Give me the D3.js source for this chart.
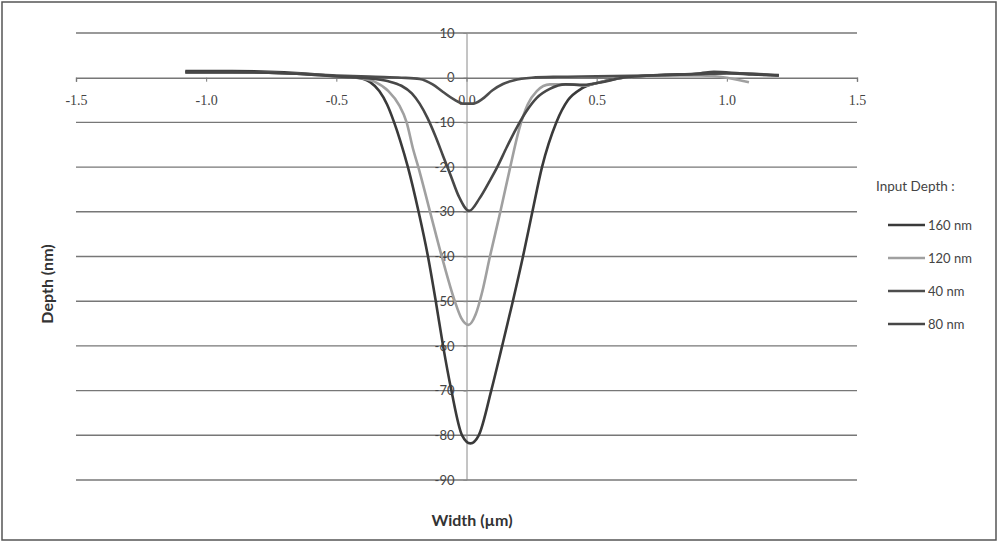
<!DOCTYPE html>
<html>
<head>
<meta charset="utf-8">
<script src="https://cdn.jsdelivr.net/npm/d3@7"></script>
<style>
  html, body { margin: 0; padding: 0; background: #fff; }
  svg { display: block; }
</style>
</head>
<body>
<svg id="chart" width="998" height="543"></svg>
<script>
// Profile data: width (µm) vs. depth (nm) for each input depth
const seriesNames = ["160 nm", "120 nm", "40 nm", "80 nm"];

const width160 = [-1.08,-0.9,-0.7,-0.55,-0.45,-0.42,-0.37,-0.335,-0.305,-0.278,-0.255,-0.225,-0.184,-0.148,-0.118,-0.09,-0.058,-0.017,0.015,0.047,0.095,0.137,0.178,0.217,0.253,0.29,0.345,0.39,0.44,0.5,0.6,0.7,0.85,1.0,1.1,1.2];
const depth160 = [1.5,1.5,1.2,0.6,0.1,0,-1,-3,-6,-10,-14,-20,-30,-40,-50,-60,-70,-80,-81.8,-80,-70,-60,-50,-40,-30,-20,-10,-5,-2.5,-1.2,0,0.5,0.7,1.0,0.7,0.5];

const width120 = [-1.08,-0.9,-0.7,-0.55,-0.45,-0.4,-0.35,-0.3,-0.26,-0.23,-0.205,-0.185,-0.14,-0.095,-0.045,-0.02,0.008,0.035,0.06,0.09,0.13,0.168,0.2,0.235,0.27,0.32,0.4,0.45,0.5,0.6,0.75,0.9,1.0,1.085];
const depth120 = [1.2,1.2,1.0,0.5,0.1,-0.2,-1,-3,-6,-10,-16,-20,-30,-40,-50,-53.8,-55.3,-53,-48,-40,-30,-20,-12,-6,-3,-1.5,-1.5,-1.8,-1.2,0,0.5,0.5,0,-1];

const width40 = [-1.08,-0.9,-0.7,-0.5,-0.35,-0.25,-0.18,-0.13,-0.09,-0.05,-0.01,0.025,0.06,0.1,0.14,0.18,0.25,0.35,0.5,0.7,0.9,1.0,1.2];
const depth40 = [1.2,1.2,1.0,0.5,0.2,0.0,-0.3,-1.5,-3.2,-4.8,-5.8,-5.8,-4.8,-2.8,-1.4,-0.6,0,0.2,0.3,0.5,0.8,1.0,0.6];

const width80 = [-1.08,-0.9,-0.7,-0.55,-0.45,-0.35,-0.3,-0.25,-0.21,-0.18,-0.15,-0.12,-0.09,-0.06,-0.03,0.01,0.05,0.09,0.118,0.155,0.19,0.23,0.27,0.32,0.38,0.45,0.52,0.6,0.75,0.9,0.95,1.05,1.2];
const depth80 = [1.3,1.3,1.0,0.5,0.1,-0.3,-0.8,-1.8,-3.5,-5.8,-9,-13,-17.5,-22,-26.5,-29.8,-27,-23,-20,-15.5,-11.5,-7.5,-4.5,-2.5,-1.5,-1.6,-1,0,0.6,1.0,1.3,1.0,0.5];

const xTicks = [-1.5, -1.0, -0.5, 0.0, 0.5, 1.0, 1.5];
const yTicks = [10, 0, -10, -20, -30, -40, -50, -60, -70, -80, -90];

const series = [
  { name: seriesNames[0], xs: width160, ys: depth160, color: "#3a3a3a" },
  { name: seriesNames[1], xs: width120, ys: depth120, color: "#a0a0a0" },
  { name: seriesNames[2], xs: width40,  ys: depth40,  color: "#4d4d4d" },
  { name: seriesNames[3], xs: width80,  ys: depth80,  color: "#474747" }
];

// Plain hyphen for negative numbers on the tick labels
const locale = d3.formatLocale({ decimal: ".", thousands: ",", grouping: [3], currency: ["", ""], minus: "-" });

const svg = d3.select("#chart");

// Outer chart frame
svg.append("rect")
  .attr("x", 2).attr("y", 2).attr("width", 994).attr("height", 538)
  .attr("fill", "#fff").attr("stroke", "#555").attr("stroke-width", 1.5);

const x = d3.scaleLinear().domain([-1.5, 1.5]).range([76, 857]);
const y = d3.scaleLinear().domain([10, -90]).range([33, 480]);

// Horizontal gridlines
svg.append("g")
  .selectAll("line")
  .data(yTicks.filter(v => v !== 0))
  .join("line")
  .attr("x1", x(-1.5)).attr("x2", x(1.5))
  .attr("y1", d => y(d)).attr("y2", d => y(d))
  .attr("stroke", "#777").attr("stroke-width", 1.4);

// Vertical axis at x = 0
const yAxis = d3.axisLeft(y).tickValues(yTicks).tickSize(3).tickFormat(locale.format("d"));
const yG = svg.append("g").attr("transform", `translate(${x(0)},0)`).call(yAxis);
yG.select(".domain").attr("stroke", "#8a8a8a").attr("stroke-width", 1);
yG.selectAll(".tick line").attr("stroke", "#8a8a8a");
yG.selectAll(".tick text")
  .attr("x", -12)
  .attr("fill", "#444")
  .style("font-family", "Lato, 'Open Sans', sans-serif")
  .style("font-size", "13px");

// Horizontal axis at depth = 0
const xAxis = d3.axisBottom(x).tickValues(xTicks).tickSize(4).tickSizeOuter(4).tickFormat(locale.format(".1f"));
const xG = svg.append("g").attr("transform", `translate(0,${y(0)})`).call(xAxis);
xG.select(".domain").attr("stroke", "#777").attr("stroke-width", 1.4);
xG.selectAll(".tick line").attr("stroke", "#777");
xG.selectAll(".tick text")
  .attr("y", 17)
  .attr("fill", "#444")
  .style("font-family", "'Liberation Serif', 'DejaVu Serif', serif")
  .style("font-size", "14px");

// Profile curves
const line = d3.line()
  .x(d => x(d[0]))
  .y(d => y(d[1]))
  .curve(d3.curveMonotoneX);

svg.append("g")
  .selectAll("path")
  .data(series)
  .join("path")
  .attr("d", s => line(s.xs.map((v, i) => [v, s.ys[i]])))
  .attr("fill", "none")
  .attr("stroke", s => s.color)
  .attr("stroke-width", 2.6)
  .attr("stroke-linejoin", "round");

// Axis titles
svg.append("text")
  .attr("x", 472).attr("y", 526)
  .attr("text-anchor", "middle")
  .attr("fill", "#333")
  .style("font-family", "Lato, 'Open Sans', sans-serif")
  .style("font-weight", "bold")
  .style("font-size", "16px")
  .text("Width (µm)");

svg.append("text")
  .attr("transform", "translate(53,284) rotate(-90)")
  .attr("text-anchor", "middle")
  .attr("fill", "#333")
  .style("font-family", "Lato, 'Open Sans', sans-serif")
  .style("font-weight", "bold")
  .style("font-size", "16px")
  .text("Depth (nm)");

// Legend
const legend = svg.append("g");
legend.append("text")
  .attr("x", 876).attr("y", 191)
  .attr("fill", "#444")
  .style("font-family", "Lato, 'Open Sans', sans-serif")
  .style("font-size", "13.5px")
  .text("Input Depth :");

const item = legend.selectAll("g.item")
  .data(series)
  .join("g")
  .attr("class", "item")
  .attr("transform", (d, i) => `translate(0,${225 + i * 33})`);
item.append("line")
  .attr("x1", 888).attr("x2", 925)
  .attr("y1", 0).attr("y2", 0)
  .attr("stroke", d => d.color)
  .attr("stroke-width", 2.6);
item.append("text")
  .attr("x", 928).attr("y", 4.5)
  .attr("fill", "#444")
  .style("font-family", "Lato, 'Open Sans', sans-serif")
  .style("font-size", "13px")
  .text(d => d.name);
</script>
</body>
</html>
